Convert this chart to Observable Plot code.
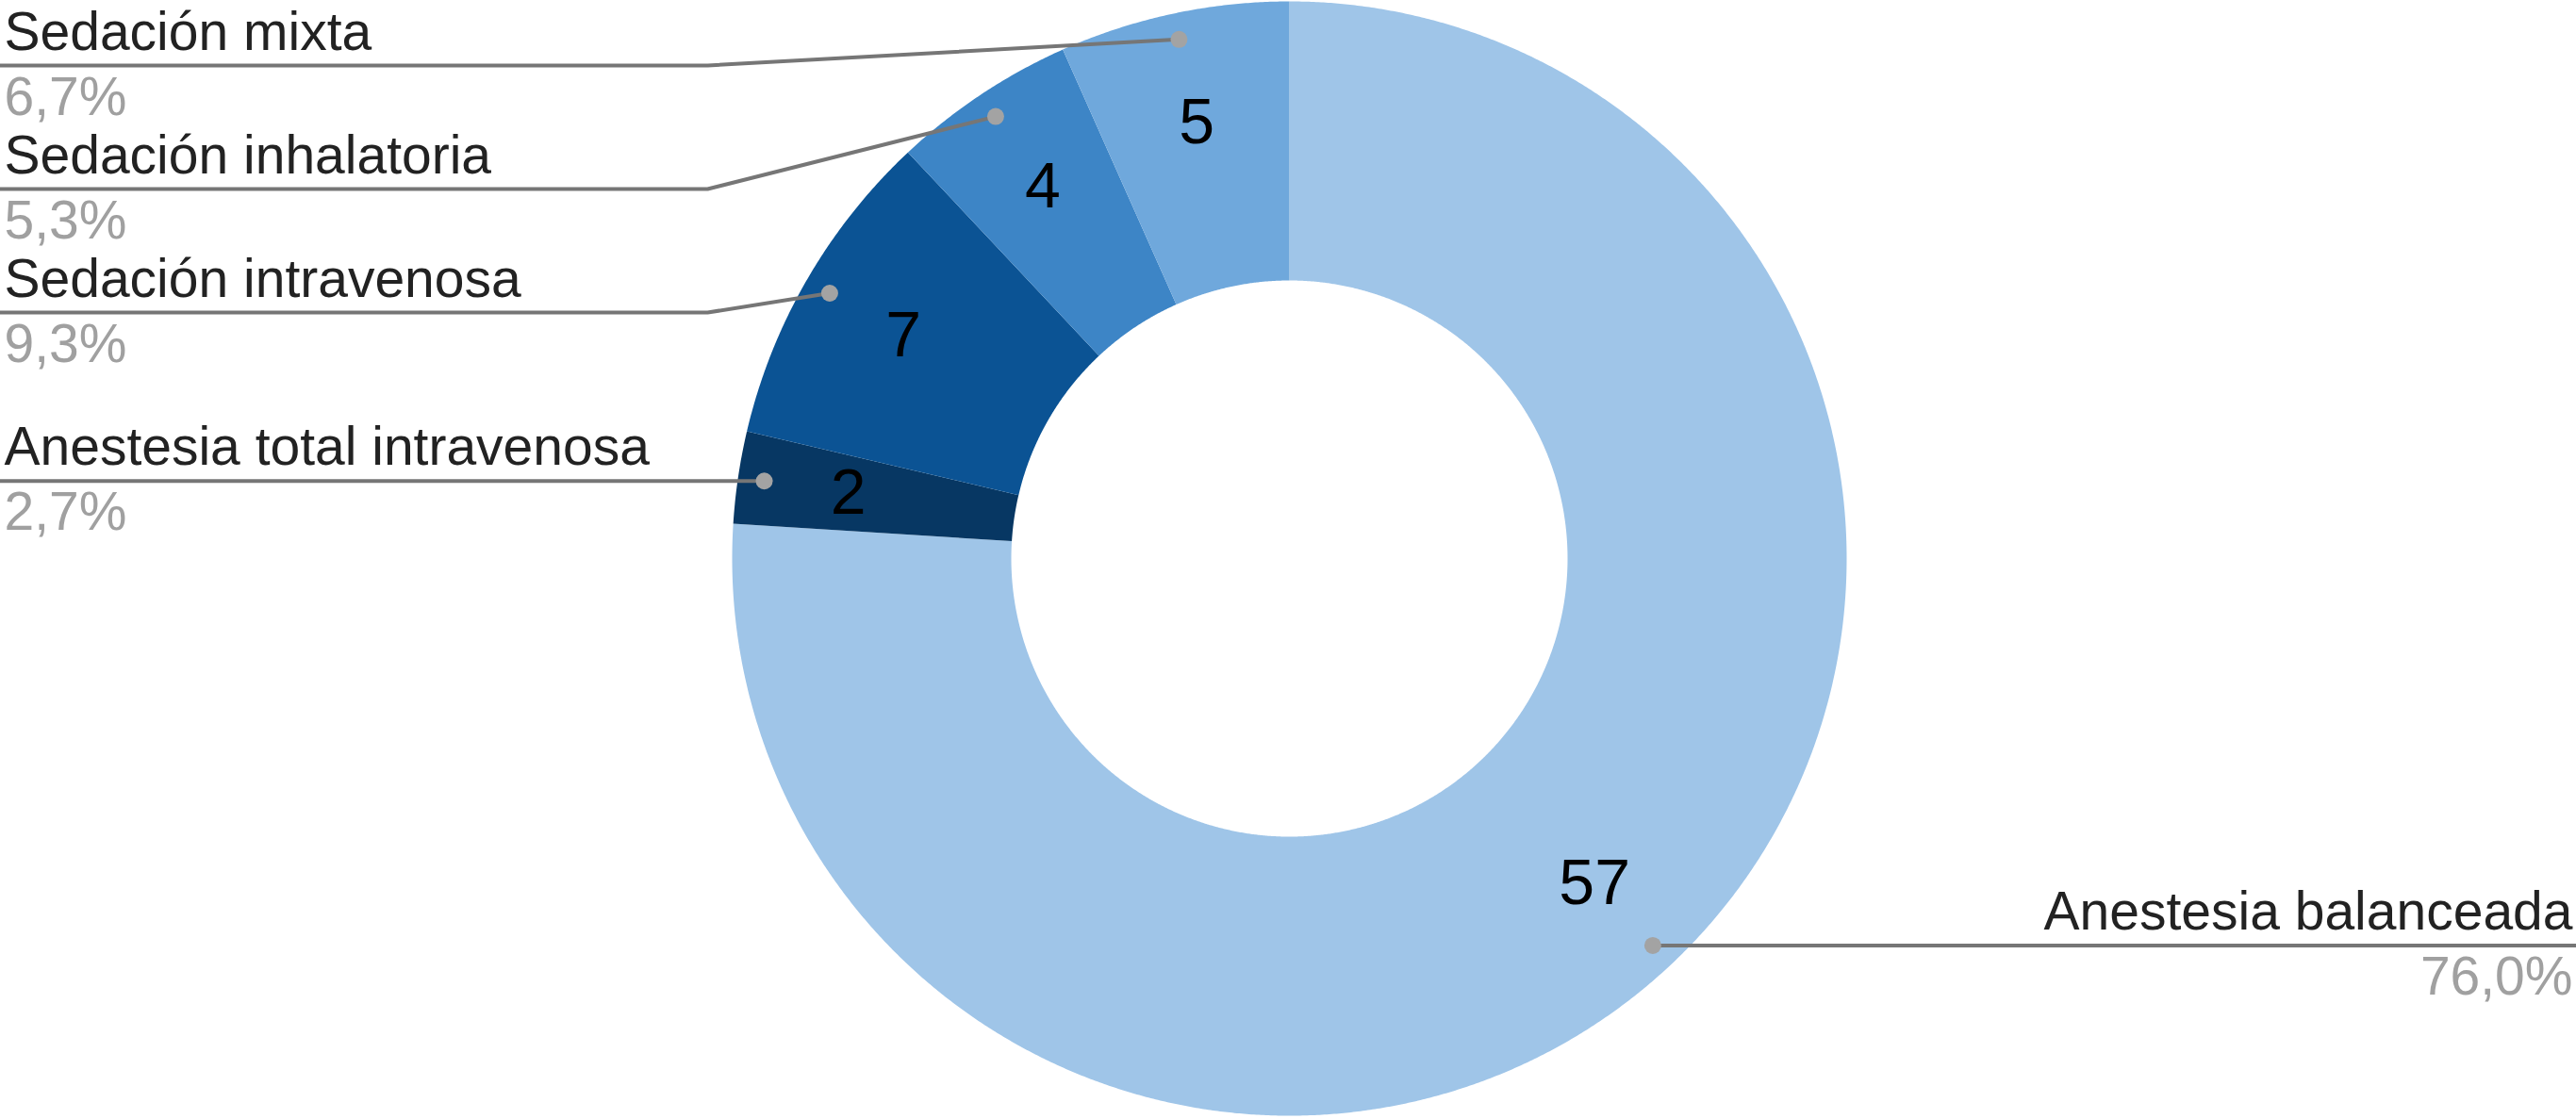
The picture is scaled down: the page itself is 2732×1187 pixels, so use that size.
<!DOCTYPE html>
<html>
<head>
<meta charset="utf-8">
<script src="https://cdn.jsdelivr.net/npm/d3@7"></script>
<script src="https://cdn.jsdelivr.net/npm/@observablehq/plot@0.6"></script>
<style>
  html, body { margin: 0; padding: 0; background: #ffffff; }
  #chart svg { display: block; max-width: none; }
</style>
</head>
<body>
<div id="chart"></div>
<script>
// ---- data ----
const categories = ["Anestesia balanceada", "Anestesia total intravenosa", "Sedación intravenosa", "Sedación inhalatoria", "Sedación mixta"];
const values = [57, 2, 7, 4, 5];
const colors = ["#9fc5e8", "#073763", "#0b5394", "#3d85c6", "#6fa8dc"];

// ---- layout constants ----
const W = 2732, H = 1187;
const CX = 1367, CY = 592, R = 591;          // donut centre & outer radius (px)
const innerR = 295 / R;                       // inner radius (unit)
const labelR = 0.8;                           // number label radius
const dotR = 563 / R;                         // leader dot radius
const elbowX = (750 - CX) / R;                // leader elbow (left side)
const gap = 131 / R;                          // min vertical gap between stacked labels
const topLimit = (CY - 69) / R;               // highest leader line allowed
const xMin = -CX / R, xMax = (W - CX) / R;
const yMax = CY / R, yMin = -(H - CY) / R;

const total = d3.sum(values);
const rows = categories.map((name, i) => ({name, value: values[i], color: colors[i]}));
const arcs = d3.pie().sort(null).value(d => d.value).startAngle(0).endAngle(2 * Math.PI)(rows);

const pt = (a, r) => ({x: Math.sin(a) * r, y: Math.cos(a) * r});

// slice polygons
const slicePts = [];
for (const a of arcs) {
  const n = Math.max(2, Math.ceil((a.endAngle - a.startAngle) / (Math.PI / 720)));
  for (let k = 0; k <= n; k++) {
    const t = a.startAngle + (a.endAngle - a.startAngle) * k / n;
    slicePts.push({name: a.data.name, ...pt(t, 1)});
  }
  for (let k = n; k >= 0; k--) {
    const t = a.startAngle + (a.endAngle - a.startAngle) * k / n;
    slicePts.push({name: a.data.name, ...pt(t, innerR)});
  }
}

// labels & leaders
const info = arcs.map(a => {
  const mid = (a.startAngle + a.endAngle) / 2;
  const dot = pt(mid, dotR);
  const lab = pt(mid, labelR);
  return {
    name: a.data.name, value: a.data.value,
    pct: (a.data.value / total * 100).toFixed(1).replace(".", ",") + "%",
    side: mid > Math.PI ? "left" : "right",
    dotX: dot.x, dotY: dot.y, labX: lab.x, labY: lab.y
  };
});
// stack left-side labels from top to bottom
const left = info.filter(d => d.side === "left").sort((a, b) => b.dotY - a.dotY);
let prev = topLimit + gap;
for (const d of left) { d.lineY = Math.min(d.dotY, prev - gap); prev = d.lineY; }
const right = info.filter(d => d.side === "right").sort((a, b) => b.dotY - a.dotY);
for (const d of right) d.lineY = d.dotY;

const leaderPts = [];
for (const d of info) {
  const edge = d.side === "left" ? xMin : xMax;
  const elbow = d.side === "left" ? elbowX : -elbowX;
  leaderPts.push({name: d.name, x: edge, y: d.lineY});
  if (d.side === "left" ? d.dotX > elbow : d.dotX < elbow) leaderPts.push({name: d.name, x: elbow, y: d.lineY});
  leaderPts.push({name: d.name, x: d.dotX, y: d.dotY});
}
info.forEach(d => { d.textX = d.side === "left" ? xMin : xMax; });

const font = "'Liberation Sans', Arial, sans-serif";
const leftInfo = info.filter(d => d.side === "left");
const rightInfo = info.filter(d => d.side === "right");

const chart = Plot.plot({
  width: W, height: H,
  margin: 0,
  x: {domain: [xMin, xMax], axis: null},
  y: {domain: [yMin, yMax], axis: null},
  color: {domain: categories, range: colors},
  style: {fontFamily: font, background: "#ffffff", maxWidth: "none"},
  marks: [
    Plot.line(slicePts, {x: "x", y: "y", z: "name", fill: "name", stroke: "none", curve: "linear-closed"}),
    Plot.line(leaderPts, {x: "x", y: "y", z: "name", stroke: "#767676", strokeWidth: 4}),
    Plot.dot(info, {x: "dotX", y: "dotY", r: 9, fill: "#a3a3a3", stroke: "none"}),
    Plot.text(info, {x: "labX", y: "labY", text: d => String(d.value), fontSize: 68, fill: "#000000", fontFamily: font}),
    Plot.text(leftInfo, {x: "textX", y: "lineY", text: "name", textAnchor: "start", lineAnchor: "bottom", dx: 4, dy: -17, fontSize: 57, fill: "#222222", fontFamily: font}),
    Plot.text(rightInfo, {x: "textX", y: "lineY", text: "name", textAnchor: "end", lineAnchor: "bottom", dx: -4, dy: -17, fontSize: 57, fill: "#222222", fontFamily: font}),
    Plot.text(leftInfo, {x: "textX", y: "lineY", text: "pct", textAnchor: "start", lineAnchor: "bottom", dx: 4, dy: 52, fontSize: 57, fill: "#a0a0a0", fontFamily: font}),
    Plot.text(rightInfo, {x: "textX", y: "lineY", text: "pct", textAnchor: "end", lineAnchor: "bottom", dx: -4, dy: 52, fontSize: 57, fill: "#a0a0a0", fontFamily: font})
  ]
});
document.getElementById("chart").appendChild(chart);
</script>
</body>
</html>
